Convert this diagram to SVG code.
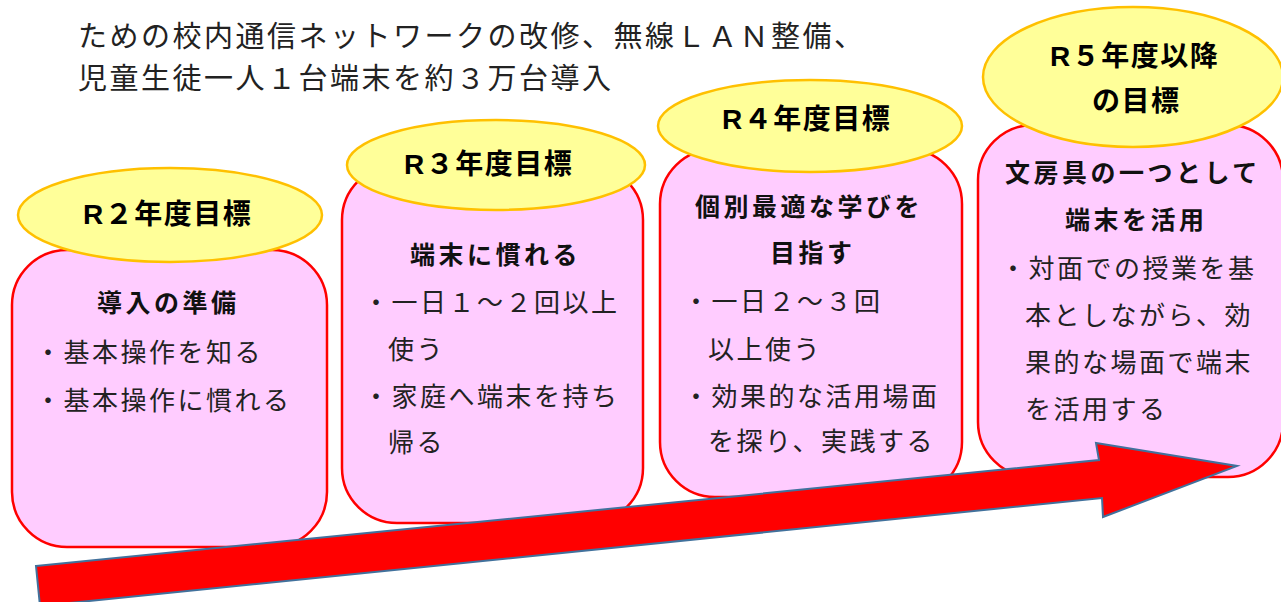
<svg xmlns="http://www.w3.org/2000/svg" width="1281" height="602" viewBox="0 0 1281 602">
<style>
.box{fill:#FFCCFF;stroke:#FF0000;stroke-width:2.5}
.ell{fill:#FFFF99;stroke:#FFC000;stroke-width:2.5}
.lbl{font-family:"Liberation Sans","Noto Sans CJK JP",sans-serif;font-size:28px;font-weight:bold;letter-spacing:1.5px;fill:#000}
.hd{font-family:"Liberation Sans","Noto Sans CJK JP",sans-serif;font-size:25px;font-weight:bold;letter-spacing:3.5px;fill:#111}
.tx{font-family:"Liberation Serif","Noto Sans CJK JP",serif;font-size:26px;letter-spacing:2.5px;fill:#222}
.tt{font-family:"Liberation Serif","Noto Sans CJK JP",serif;font-size:29px;letter-spacing:2.5px;fill:#222}
.arrow{fill:#FF0000;stroke:#41719C;stroke-width:2;stroke-linejoin:miter}
</style>
<rect width="1281" height="602" fill="#FFFFFF"/>
<g id="title">
<text class="tt" x="78" y="47">ための校内通信ネットワークの改修、無線ＬＡＮ整備、</text>
<text class="tt" x="78" y="89">児童生徒一人１台端末を約３万台導入</text>
</g>
<g id="node-r2">
<rect class="box" x="12" y="250" width="315" height="297" rx="55" ry="55"/>
<ellipse class="ell" cx="170" cy="215" rx="152" ry="47"/>
<text class="lbl" x="83" y="224">R２年度目標</text>
<text class="hd" x="97" y="312">導入の準備</text>
<text class="tx" x="35" y="362">・基本操作を知る</text>
<text class="tx" x="35" y="410">・基本操作に慣れる</text>
</g>
<g id="node-r3">
<rect class="box" x="342" y="165" width="301" height="358" rx="55" ry="55"/>
<ellipse class="ell" cx="496" cy="165" rx="149" ry="45"/>
<text class="lbl" x="404" y="174">R３年度目標</text>
<text class="hd" x="410" y="264">端末に慣れる</text>
<text class="tx" x="363" y="312">・一日１～２回以上</text>
<text class="tx" x="388" y="359">使う</text>
<text class="tx" x="363" y="406">・家庭へ端末を持ち</text>
<text class="tx" x="388" y="452">帰る</text>
</g>
<g id="node-r4">
<rect class="box" x="660" y="149" width="302" height="348" rx="55" ry="55"/>
<ellipse class="ell" cx="810" cy="126" rx="152" ry="46"/>
<text class="lbl" x="722" y="129">R４年度目標</text>
<text class="hd" x="695" y="216">個別最適な学びを</text>
<text class="hd" x="770" y="262">目指す</text>
<text class="tx" x="683" y="311">・一日２～３回</text>
<text class="tx" x="708" y="359">以上使う</text>
<text class="tx" x="683" y="406">・効果的な活用場面</text>
<text class="tx" x="708" y="451">を探り、実践する</text>
</g>
<g id="node-r5">
<rect class="box" x="978" y="125" width="305" height="352" rx="55" ry="55"/>
<ellipse class="ell" cx="1133" cy="77" rx="150" ry="70"/>
<text class="lbl" x="1050" y="66">R５年度以降</text>
<text class="lbl" x="1092" y="111">の目標</text>
<text class="hd" x="1005" y="182">文房具の一つとして</text>
<text class="hd" x="1065" y="229">端末を活用</text>
<text class="tx" x="1000" y="278">・対面での授業を基</text>
<text class="tx" x="1025" y="325">本としながら、効</text>
<text class="tx" x="1025" y="372">果的な場面で端末</text>
<text class="tx" x="1025" y="419">を活用する</text>
</g>
<g id="connectors">
<polygon class="arrow" points="36,566 1099,460 1096,443 1237,466 1103,517 1102,498 40,606"/>
</g>
</svg>
